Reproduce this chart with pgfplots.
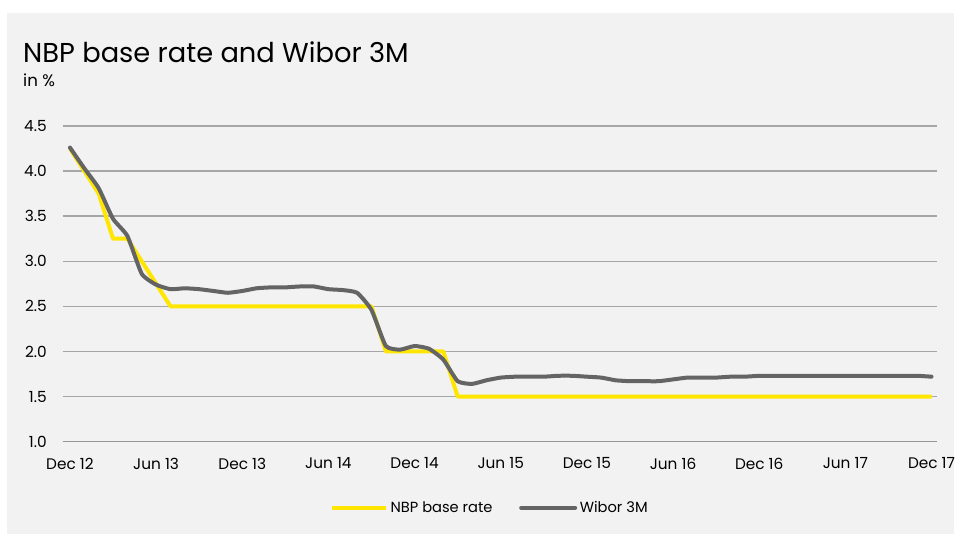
\documentclass[border=0pt]{standalone}
\usepackage{fontspec}
\setmainfont{Poppins}
\usepackage{pgfplots}
\pgfplotsset{compat=1.18}
\definecolor{panel}{HTML}{F2F2F2}
\definecolor{nbpyellow}{HTML}{FFE600}
\definecolor{wiborgray}{HTML}{646464}
\definecolor{gridgray}{HTML}{A6A6A6}

% months after Dec 12 (0 = Dec 12, 60 = Dec 17)
\pgfplotstableread{
m nbp wibor
0 4.25 4.26
1 4.00 4.03
2 3.75 3.81
3 3.25 3.47
4 3.25 3.28
5 3.00 2.86
6 2.75 2.74
7 2.50 2.69
8 2.50 2.70
9 2.50 2.69
10 2.50 2.67
11 2.50 2.65
12 2.50 2.67
13 2.50 2.70
14 2.50 2.71
15 2.50 2.71
16 2.50 2.72
17 2.50 2.72
18 2.50 2.69
19 2.50 2.68
20 2.50 2.65
21 2.50 2.46
22 2.00 2.06
23 2.00 2.02
24 2.00 2.06
25 2.00 2.03
26 2.00 1.91
27 1.50 1.67
28 1.50 1.64
29 1.50 1.68
30 1.50 1.71
31 1.50 1.72
32 1.50 1.72
33 1.50 1.72
34 1.50 1.73
35 1.50 1.73
36 1.50 1.72
37 1.50 1.71
38 1.50 1.68
39 1.50 1.67
40 1.50 1.67
41 1.50 1.67
42 1.50 1.69
43 1.50 1.71
44 1.50 1.71
45 1.50 1.71
46 1.50 1.72
47 1.50 1.72
48 1.50 1.73
49 1.50 1.73
50 1.50 1.73
51 1.50 1.73
52 1.50 1.73
53 1.50 1.73
54 1.50 1.73
55 1.50 1.73
56 1.50 1.73
57 1.50 1.73
58 1.50 1.73
59 1.50 1.73
60 1.50 1.72
}\ratedata

\begin{document}
\begin{tikzpicture}
% background, in pixel units of the reference (y downwards)
\begin{scope}[x=0.75pt,y=-0.75pt]
  \fill[white] (0,0) rectangle (955,534);
  \fill[panel] (7,13) rectangle (955,534);
  \node[anchor=base west, inner sep=0pt, font=\fontsize{20.5}{25}\selectfont] at (23,63) {NBP base rate and Wibor 3M};
  \node[anchor=base west, inner sep=0pt, font=\fontsize{12.5}{15}\selectfont] at (23,87) {in \%};
\end{scope}

\begin{axis}[
    at={(47.25pt,-331.5pt)}, anchor=south west,
    scale only axis,
    width=656.25pt, height=237pt,
    xmin=-0.487, xmax=60.4,
    ymin=1, ymax=4.5,
    axis line style={draw=none},
    axis x line*=bottom,
    ytick={1,1.5,...,4.5},
    xtick={0,6,...,60},
    xticklabels={Dec 12,Jun 13,Dec 13,Jun 14,Dec 14,Jun 15,Dec 15,Jun 16,Dec 16,Jun 17,Dec 17},
    major tick length=0pt,
    ymajorgrids=true,
    grid style={gridgray, line width=1pt},
    ticklabel style={font=\fontsize{11.5}{13}\selectfont, inner sep=0pt},
    yticklabel style={anchor=east, xshift=-12pt,
        /pgf/number format/.cd, fixed, fixed zerofill, precision=1},
    xticklabel style={anchor=north, yshift=-12pt},
    /pgf/number format/assume math mode=true,
    legend columns=2,
    legend style={at={(0.4886,-0.209)}, anchor=center, draw=none, fill=none,
        font=\fontsize{11}{13}\selectfont,
        nodes={inner sep=2pt},
        /tikz/every even column/.append style={column sep=18pt}},
    legend image code/.code={\draw[#1] (0pt,0pt) -- (40.5pt,0pt);},
]
\draw[gridgray!90!black, line width=1.3pt] (rel axis cs:0,0) -- (rel axis cs:1,0);
\addplot[nbpyellow, line width=3pt, line join=round] table[x=m, y=nbp] {\ratedata};
\addlegendentry{NBP base rate}
\addplot[wiborgray, line width=3pt, line join=round, line cap=round, smooth, tension=0.3] table[x=m, y=wibor] {\ratedata};
\addlegendentry{Wibor 3M}
\end{axis}
\end{tikzpicture}
\end{document}
